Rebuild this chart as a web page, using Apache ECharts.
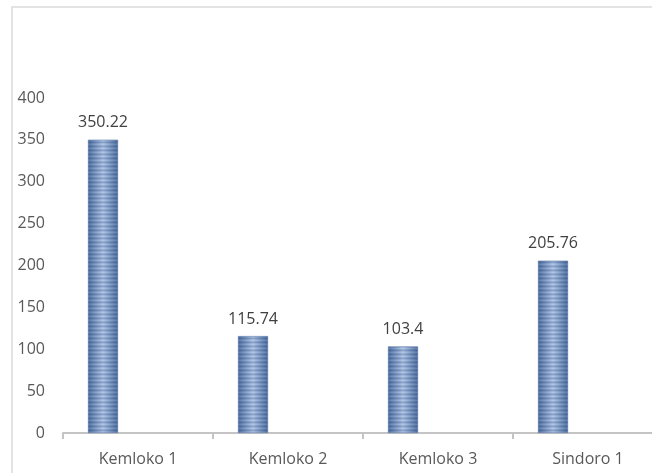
<!DOCTYPE html>
<html>
<head>
<meta charset="utf-8">
<script src="https://cdn.jsdelivr.net/npm/echarts@6/dist/echarts.min.js"></script>
<style>
  html, body { margin: 0; padding: 0; background: #fff; }
  #wrap { position: relative; width: 652px; height: 473px; overflow: hidden; }
  /* the plot runs past the right edge in the source, so the canvas is wider */
  #chart { width: 663px; height: 473px; }
  /* chart area frame (only top and left edges are visible) */
  #frame {
    position: absolute; left: 11px; top: 6px; width: 700px; height: 500px;
    border-top: 2px solid #e3e3e3; border-left: 2px solid #e3e3e3;
    pointer-events: none;
  }
</style>
</head>
<body>
<div id="wrap">
  <div id="chart"></div>
  <div id="frame"></div>
</div>
<script>
  const categories = ["Kemloko 1", "Kemloko 2", "Kemloko 3", "Sindoro 1"]
  const values = [350.22, 115.74, 103.4, 205.76]
  const emptyValues = ["-", "-", "-", "-"]
  const yMax = 400
  const yStep = 50

  const font = "'Open Sans', sans-serif"
  const myE = echarts.init(document.getElementById("chart"))

  // striped fill like the excel "texture" bars: horizontal shading + thin rows
  // pattern is one category wide (150px), bar sits at 88..118 of each category
  const makeBarPattern = () => {
    const c = document.createElement("canvas")
    c.width = 150
    c.height = 4
    const ctx = c.getContext("2d")
    const rows = [
      ["#5878a7", "#b4c8e6"],
      ["#48689a", "#9db4d8"],
      ["#3f5f92", "#8aa3cb"],
      ["#4d6d9e", "#a6bcde"],
    ]
    rows.forEach((r, y) => {
      const g = ctx.createLinearGradient(88, 0, 118, 0)
      g.addColorStop(0, r[0])
      g.addColorStop(0.5, r[1])
      g.addColorStop(1, r[0])
      ctx.fillStyle = g
      ctx.fillRect(0, y, 150, 1)
    })
    return c
  }

  let option = {
    animation: false,
    grid: {
      top: 98,
      left: 63,
      right: 0,
      bottom: 40,
      containLabel: false,
    },
    xAxis: {
      type: "category",
      data: categories,
      axisLine: { show: true, lineStyle: { color: "#c4c4c4", width: 2 } },
      axisTick: { show: true, length: 6, lineStyle: { color: "#c4c4c4", width: 2 } },
      axisLabel: { margin: 18, color: "#595959", fontSize: 16, fontFamily: font },
    },
    yAxis: {
      type: "value",
      min: 0,
      max: yMax,
      interval: yStep,
      axisLine: { show: false },
      axisTick: { show: false },
      splitLine: { show: false },
      axisLabel: { margin: 18, color: "#595959", fontSize: 16, fontFamily: font },
    },
    series: [
      {
        type: "bar",
        data: values,
        barWidth: 30,
        barGap: "133.33%",
        itemStyle: {
          color: { image: makeBarPattern(), repeat: "repeat" },
          borderColor: "#5473a3",
          borderWidth: 0.5,
        },
        label: {
          show: true,
          position: "top",
          distance: 9,
          color: "#404040",
          fontSize: 16,
          fontFamily: font,
        },
      },
      {
        // empty second series, keeps the bars shifted left as in the source
        type: "bar",
        data: emptyValues,
        barWidth: 30,
      },
    ],
  }
  myE.setOption(option)
</script>
</body>
</html>
